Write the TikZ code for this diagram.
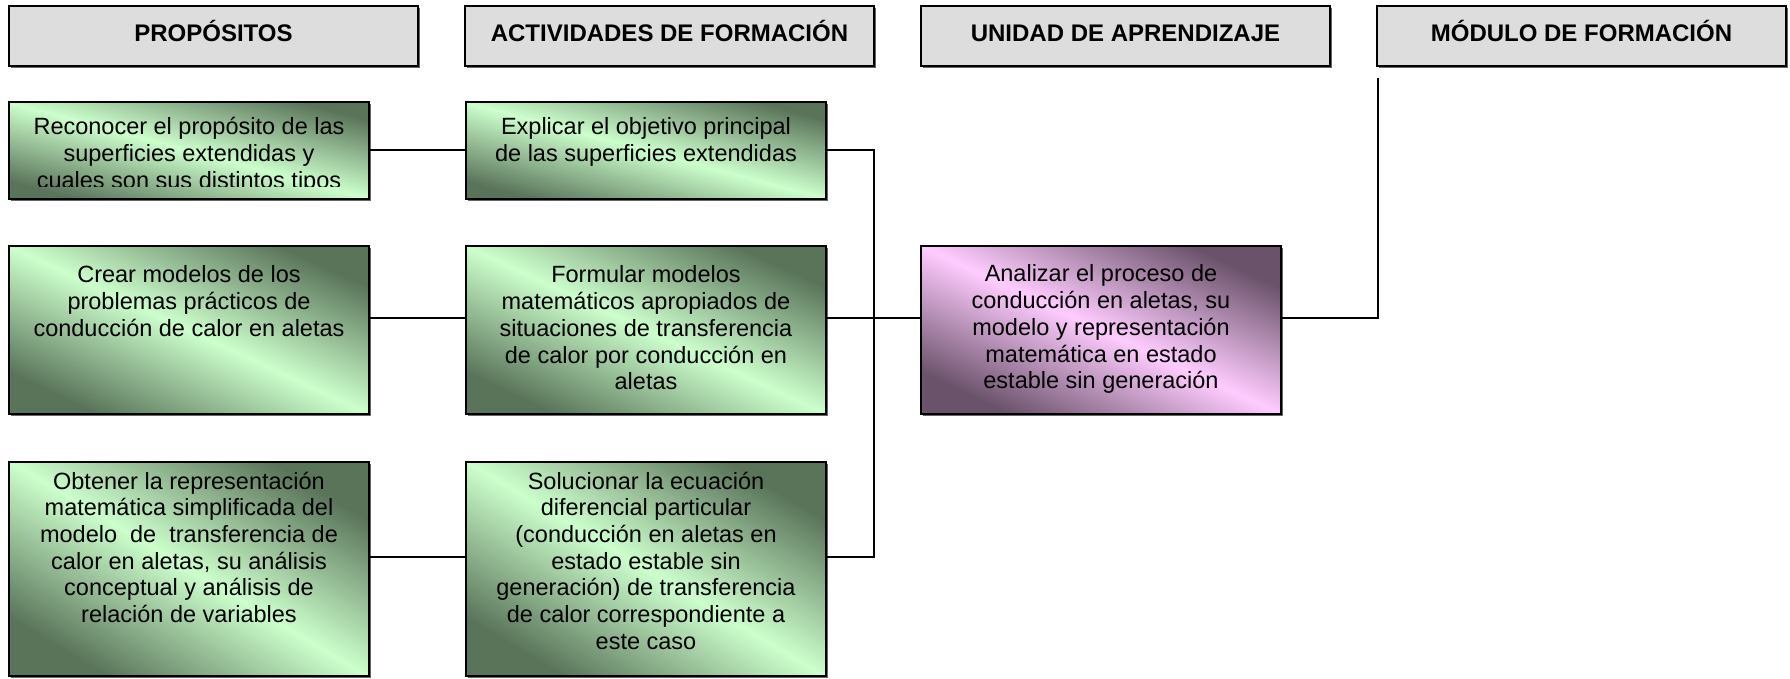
\documentclass[tikz,border=0pt]{standalone}
\usepackage{fontspec}
\setmainfont{Liberation Sans}
\usetikzlibrary{positioning,shadows}

\definecolor{hdrgray}{HTML}{DDDDDD}
\definecolor{greenlight}{HTML}{CCFFCC}
\definecolor{greendark}{HTML}{5A745A}
\definecolor{pinklight}{HTML}{FFCCFF}
\definecolor{pinkdark}{HTML}{6A526A}

\tikzset{
  box/.style={draw=black, line width=1.8pt, inner sep=0pt,
    drop shadow={shadow xshift=1.6pt, shadow yshift=-1.6pt, fill=black!60, opacity=1}},
  hdr/.style={box, fill=hdrgray, minimum width=409pt, minimum height=60pt,
    text height=18pt, text depth=8pt, font=\fontsize{24}{28}\selectfont\bfseries},
  greenbox/.style={box, minimum width=360pt, top color=greendark, bottom color=greendark,
    middle color=greenlight, shading angle=#1},
  pinkbox/.style={box, minimum width=360pt, top color=pinkdark, bottom color=pinkdark,
    middle color=pinklight, shading angle=#1},
  txt/.style={align=center, inner sep=0pt, font=\fontsize{23.5}{26.7}\selectfont},
  link/.style={line width=1.8pt}
}

\begin{document}
\begin{tikzpicture}[x=1pt,y=-1pt]
  \useasboundingbox (0,0) rectangle (1790,678);

  % column headers
  \node[hdr] (h1) at (213.5,36)  {PROPÓSITOS};
  \node[hdr] (h2) at (669.5,36)  {ACTIVIDADES DE FORMACIÓN};
  \node[hdr] (h3) at (1125.5,36) {UNIDAD DE APRENDIZAJE};
  \node[hdr] (h4) at (1581.5,36) {MÓDULO DE FORMACIÓN};

  % boxes
  \node[greenbox=-15, minimum height=97pt]  (p1) at (189,150.5) {};
  \node[greenbox=-15, minimum height=97pt]  (a1) at (646,150.5) {};
  \node[greenbox=-25, minimum height=168pt] (p2) at (189,330)   {};
  \node[greenbox=-25, minimum height=168pt] (a2) at (646,330)   {};
  \node[pinkbox=-25,  minimum height=168pt] (u)  at (1101,330)  {};
  \node[greenbox=-31, minimum height=214pt] (p3) at (189,569)   {};
  \node[greenbox=-31, minimum height=214pt] (a3) at (646,569)   {};

  % texts
  \begin{scope}
    \clip (p1.north west) rectangle ([yshift=13pt]p1.south east);
    \node[txt, below=15pt of p1.north] (p1t) {\strut Reconocer el propósito de las\\superficies extendidas y\\cuales son sus distintos tipos};
  \end{scope}
  \node[txt, below=15pt of a1.north] (a1t) {\strut Explicar el objetivo principal\\de las superficies extendidas};
  \node[txt, below=19pt of p2.north] (p2t) {\strut Crear modelos de los\\problemas prácticos de\\conducción de calor en aletas};
  \node[txt, below=19pt of a2.north] (a2t) {\strut Formular modelos\\matemáticos apropiados de\\situaciones de transferencia\\de calor por conducción en\\aletas};
  \node[txt, below=18pt of u.north]  (ut)  {\strut Analizar el proceso de\\conducción en aletas, su\\modelo y representación\\matemática en estado\\estable sin generación};
  \node[txt, below=9pt of p3.north]  (p3t) {\strut Obtener la representación\\matemática simplificada del\\modelo\ \ de\ \ transferencia de\\calor en aletas, su análisis\\conceptual y análisis de\\relación de variables};
  \node[txt, below=9pt of a3.north]  (a3t) {\strut Solucionar la ecuación\\diferencial particular\\(conducción en aletas en\\estado estable sin\\generación) de transferencia\\de calor correspondiente a\\este caso};

  % connectors
  \coordinate (j1) at (874,150);
  \coordinate (j2) at (874,318);
  \coordinate (j3) at (874,557);
  \coordinate (m)  at (1378,318);
  \coordinate (mt) at (1378,78);

  \draw[link] (p1.east |- j1) -- (a1.west |- j1);
  \draw[link] (p2.east |- j2) -- (a2.west |- j2);
  \draw[link] (p3.east |- j3) -- (a3.west |- j3);
  \draw[link] (a1.east |- j1) -- (j1) -- (j3) -- (a3.east |- j3);
  \draw[link] (a2.east |- j2) -- (u.west |- j2);
  \draw[link] (u.east |- j2) -- (m) -- (mt);

\end{tikzpicture}
\end{document}
